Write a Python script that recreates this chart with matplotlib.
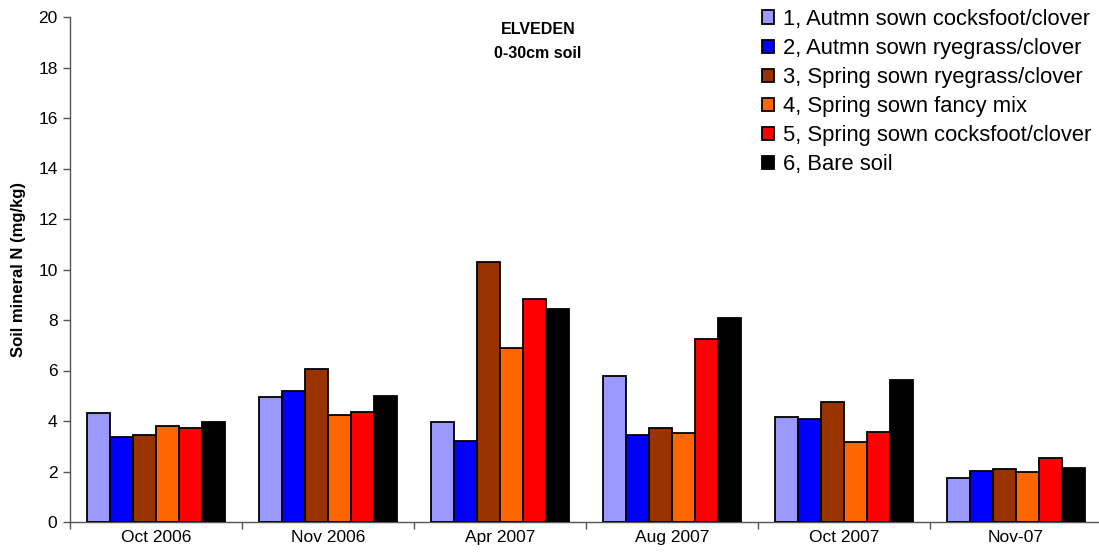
import matplotlib
matplotlib.use("Agg")
import matplotlib.pyplot as plt
import numpy as np
from matplotlib.patches import Patch

plt.rcParams['font.family'] = ['Liberation Sans', 'DejaVu Sans']

categories = ["Oct 2006", "Nov 2006", "Apr 2007", "Aug 2007", "Oct 2007", "Nov-07"]
series_names = ["1, Autmn sown cocksfoot/clover", "2, Autmn sown ryegrass/clover",
                "3, Spring sown ryegrass/clover", "4, Spring sown fancy mix",
                "5, Spring sown cocksfoot/clover", "6, Bare soil"]
colors = ["#9999FF", "#0000FF", "#993300", "#FF6600", "#FF0000", "#000000"]

s1 = [4.32, 4.96, 3.97, 5.78, 4.16, 1.76]
s2 = [3.38, 5.17, 3.21, 3.46, 4.09, 2.03]
s3 = [3.46, 6.06, 10.30, 3.71, 4.77, 2.09]
s4 = [3.79, 4.25, 6.89, 3.51, 3.16, 1.98]
s5 = [3.74, 4.34, 8.83, 7.26, 3.56, 2.53]
s6 = [3.95, 5.00, 8.45, 8.08, 5.64, 2.13]
series = [s1, s2, s3, s4, s5, s6]

W, H = 1099, 560
fig = plt.figure(figsize=(W/100, H/100), dpi=100)
ax = fig.add_axes([70/W, (H-522)/H, (1102-70)/W, (522-17)/H])

x = np.arange(len(categories))
bw = 0.134
for i, (vals, c) in enumerate(zip(series, colors)):
    ax.bar(x + (i - 2.5) * bw, vals, width=bw, color=c, edgecolor='black',
           linewidth=1.3, zorder=3)

ax.set_xlim(-0.5, len(categories) - 0.5)
ax.set_ylim(0, 20)
ax.set_yticks(np.arange(0, 21, 2))
ax.set_xticks(x)
ax.set_xticklabels(categories, fontsize=12.5)
ax.set_xticks(np.arange(-0.5, len(categories), 1), minor=True)
ax.tick_params(axis='x', which='major', length=0, pad=6)
ax.tick_params(axis='x', which='minor', length=5, width=1, color='#555555', direction='out')
ax.tick_params(axis='y', labelsize=12.5, length=5, width=1, color='#555555', direction='out', pad=4)
for sp in ['top', 'right']:
    ax.spines[sp].set_visible(False)
for sp in ['left', 'bottom']:
    ax.spines[sp].set_color('#555555')
    ax.spines[sp].set_linewidth(1)

ax.set_ylabel("Soil mineral N (mg/kg)", fontsize=12, fontweight='bold', labelpad=9)

fig.text(538/W, 1 - 30/H, "ELVEDEN", ha='center', va='center', fontsize=11.5, fontweight='bold')
fig.text(538/W, 1 - 54/H, "0-30cm soil", ha='center', va='center', fontsize=11.5, fontweight='bold')

handles = [Patch(facecolor=c, edgecolor='black', linewidth=1.3) for c in colors]
leg = fig.legend(handles, series_names, loc='upper left',
                 bbox_to_anchor=(753/W, 1 - 0/H), frameon=False,
                 fontsize=15.8, handlelength=0.55, handleheight=0.55,
                 handletextpad=0.4, labelspacing=0.37, borderaxespad=0)

fig.savefig("out.png", dpi=100)
